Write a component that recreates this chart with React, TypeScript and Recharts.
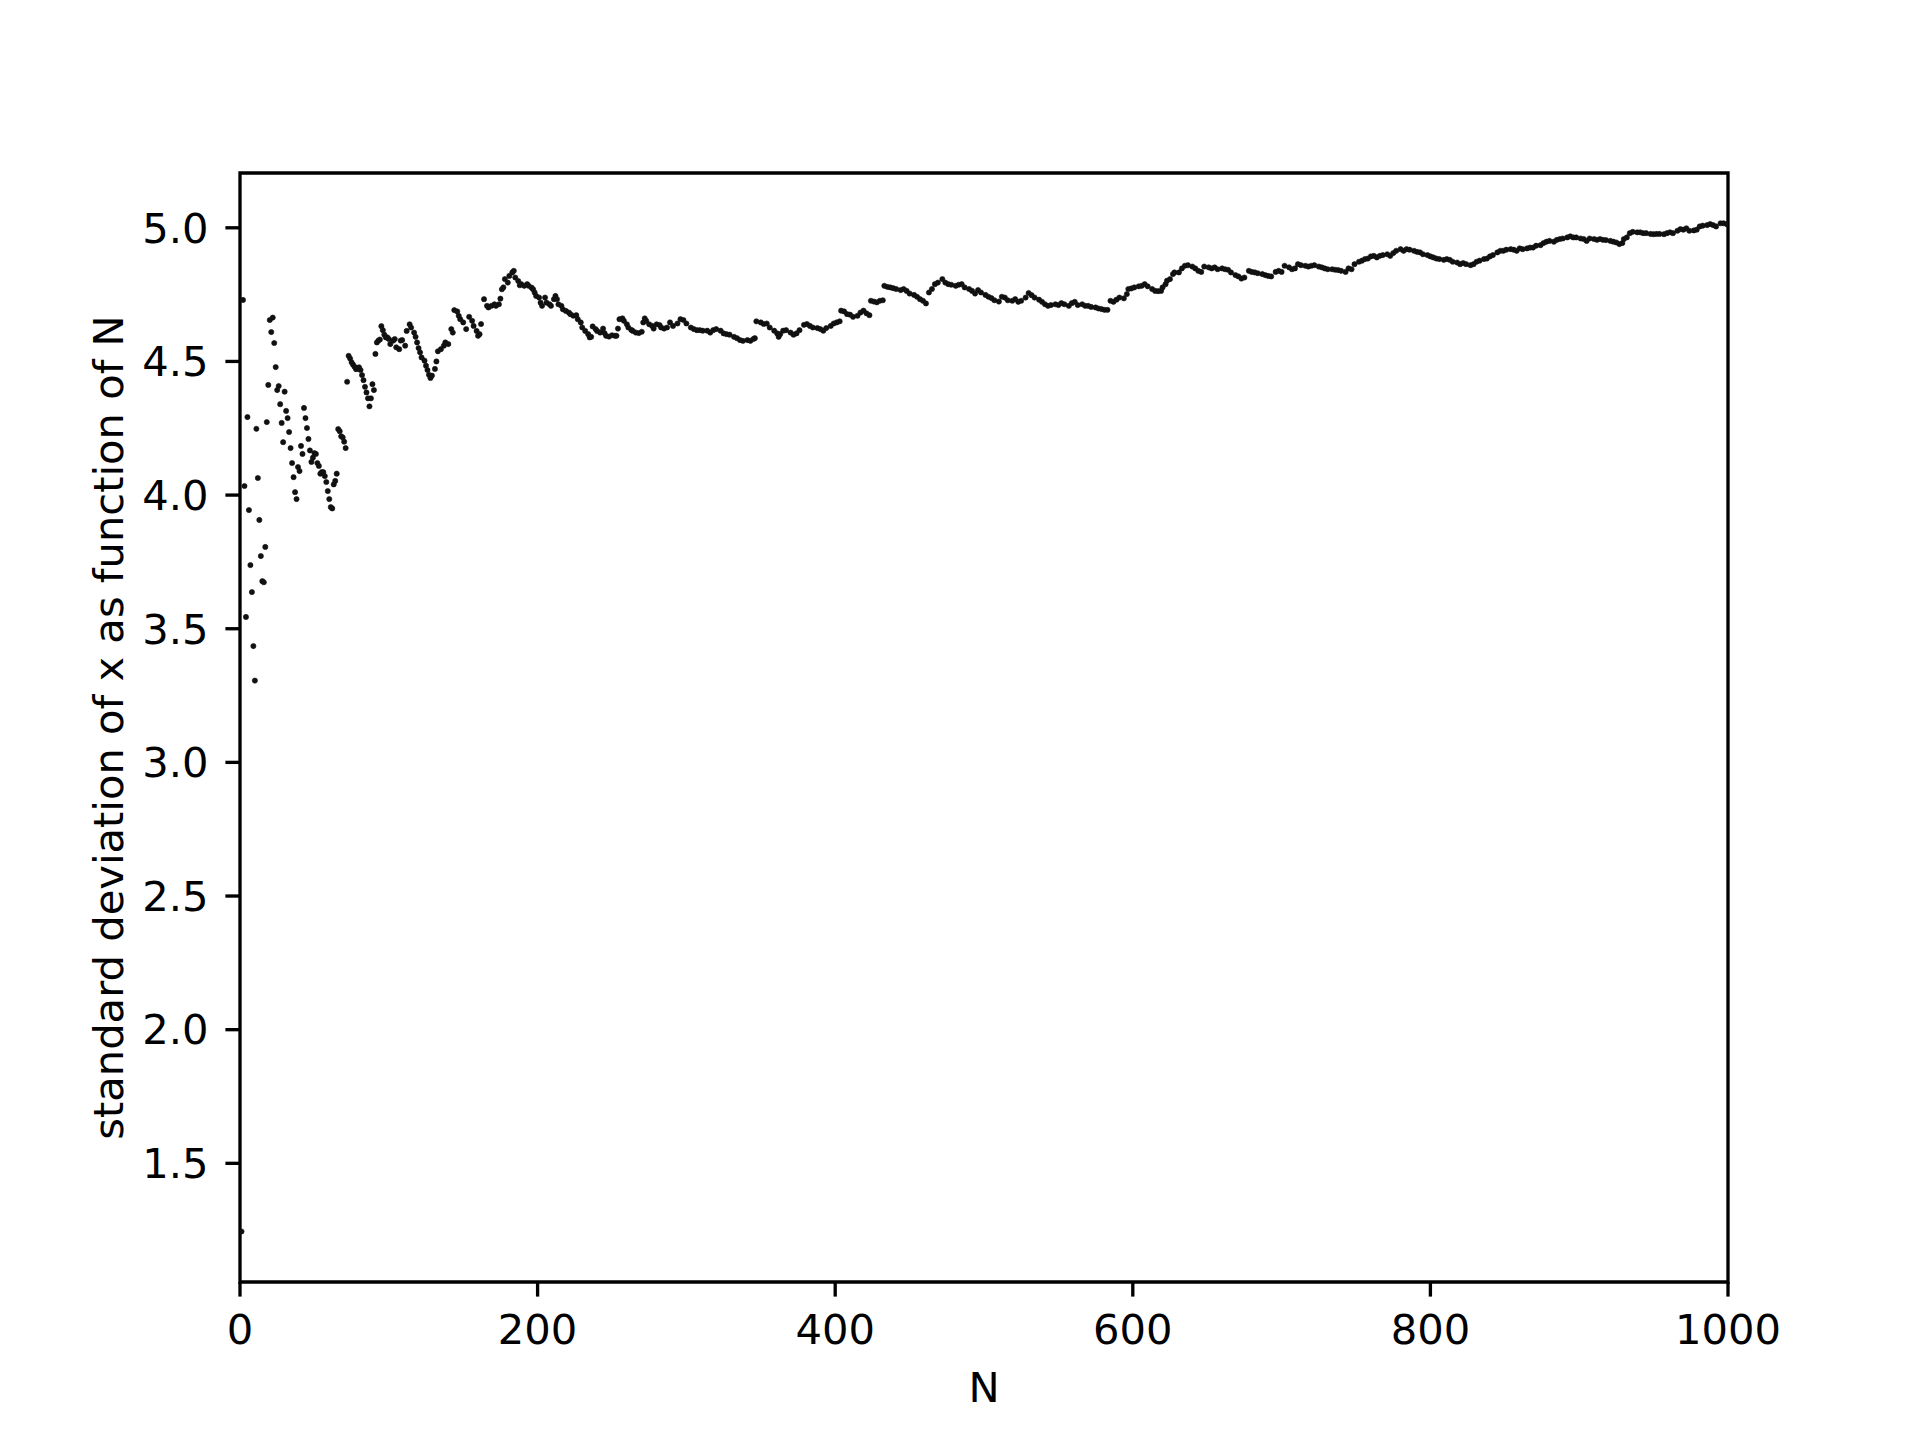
import React from "react";
import { ScatterChart, Scatter, XAxis, YAxis, ReferenceArea } from "recharts";

// running standard deviation of x as [N, value]
const firstSeventy: [number, number][] = [
  [1, 1.245], [2, 4.73], [3, 4.034], [4, 3.544], [5, 4.292], [6, 3.944], [7, 3.738], [8, 3.637],
  [9, 3.435], [10, 3.306], [11, 4.248], [12, 4.064], [13, 3.907], [14, 3.772], [15, 3.678],
  [16, 3.674], [17, 3.806], [18, 4.273], [19, 4.412], [20, 4.655], [21, 4.61], [22, 4.664],
  [23, 4.569], [24, 4.479], [25, 4.393], [26, 4.408], [27, 4.34], [28, 4.27], [29, 4.198],
  [30, 4.387], [31, 4.315], [32, 4.288], [33, 4.236], [34, 4.176], [35, 4.12], [36, 4.067],
  [37, 4.011], [38, 3.985], [39, 4.105], [40, 4.09], [41, 4.184], [42, 4.154], [43, 4.326],
  [44, 4.288], [45, 4.251], [46, 4.21], [47, 4.167], [48, 4.124], [49, 4.14], [50, 4.157],
  [51, 4.154], [52, 4.12], [53, 4.109], [54, 4.08], [55, 4.086], [56, 4.086], [57, 4.071],
  [58, 4.049], [59, 4.015], [60, 3.985], [61, 3.955], [62, 3.95], [63, 4.04], [64, 4.053],
  [65, 4.08], [66, 4.247], [67, 4.239], [68, 4.22], [69, 4.216], [70, 4.2], [71, 4.176],
];

const upToOneSixty: [number, number][] = [
  [72, 4.424], [73, 4.521], [74, 4.511], [75, 4.497], [76, 4.488], [77, 4.48], [78, 4.471],
  [79, 4.474], [80, 4.478], [81, 4.468], [82, 4.449], [83, 4.43], [84, 4.405], [85, 4.384],
  [86, 4.362], [87, 4.332], [88, 4.362], [89, 4.415], [90, 4.393], [91, 4.528], [92, 4.571],
  [93, 4.578], [94, 4.582], [95, 4.632], [96, 4.617], [97, 4.6], [98, 4.59], [99, 4.59],
  [100, 4.584], [101, 4.565], [103, 4.578], [104, 4.584], [105, 4.553], [107, 4.546],
  [108, 4.578], [109, 4.58], [111, 4.559], [112, 4.614], [114, 4.639], [115, 4.627],
  [117, 4.608], [118, 4.592], [119, 4.571], [120, 4.55], [121, 4.534], [122, 4.515],
  [124, 4.503], [125, 4.484], [126, 4.468], [127, 4.45], [128, 4.438], [129, 4.447],
  [131, 4.472], [132, 4.5], [133, 4.538], [135, 4.546], [137, 4.559], [138, 4.571],
  [140, 4.565], [142, 4.621], [143, 4.608], [144, 4.692], [146, 4.687], [147, 4.671],
  [148, 4.658], [150, 4.646], [152, 4.621], [154, 4.667], [156, 4.652], [157, 4.633],
  [159, 4.614], [160, 4.596],
];

const upToTwoEightyFive: [number, number][] = [
  [161, 4.602], [162, 4.64], [164, 4.733], [166, 4.708], [167, 4.702], [169, 4.708],
  [171, 4.714], [172, 4.708], [174, 4.714], [175, 4.735], [176, 4.77], [177, 4.777],
  [178, 4.808], [180, 4.795], [181, 4.82], [183, 4.833], [184, 4.839], [185, 4.814],
  [187, 4.801], [188, 4.785], [189, 4.789], [191, 4.783], [193, 4.789], [194, 4.783],
  [196, 4.776], [197, 4.77], [198, 4.758], [199, 4.745], [201, 4.739], [202, 4.72],
  [203, 4.708], [205, 4.739], [206, 4.72], [208, 4.714], [209, 4.708], [211, 4.733],
  [212, 4.745], [213, 4.733], [214, 4.714], [216, 4.708], [217, 4.695], [219, 4.689],
  [221, 4.683], [222, 4.677], [224, 4.671], [226, 4.673], [227, 4.658], [229, 4.646],
  [230, 4.627], [232, 4.614], [234, 4.602], [235, 4.59], [236, 4.592], [237, 4.631],
  [239, 4.621], [240, 4.614], [242, 4.608], [244, 4.623], [245, 4.606], [246, 4.596],
  [248, 4.593], [250, 4.598], [252, 4.596], [253, 4.596], [254, 4.623], [255, 4.658],
  [257, 4.661], [258, 4.652], [260, 4.639], [261, 4.627], [263, 4.618], [264, 4.614],
  [266, 4.608], [268, 4.606], [270, 4.611], [271, 4.646], [272, 4.661], [273, 4.652],
  [275, 4.639], [277, 4.633], [278, 4.623], [280, 4.639], [282, 4.636], [283, 4.627],
  [285, 4.623],
];

const upToFiveTwenty: [number, number][] = [
  [287, 4.627], [289, 4.646], [291, 4.633], [294, 4.642], [296, 4.658], [298, 4.655],
  [300, 4.642], [303, 4.627], [305, 4.621], [307, 4.617], [309, 4.617], [311, 4.615],
  [314, 4.615], [316, 4.608], [318, 4.617], [320, 4.621], [323, 4.615], [325, 4.605],
  [327, 4.602], [329, 4.6], [332, 4.592], [334, 4.587], [336, 4.58], [338, 4.577],
  [341, 4.58], [343, 4.577], [345, 4.584], [346, 4.587], [347, 4.65], [350, 4.646],
  [352, 4.64], [354, 4.642], [356, 4.627], [359, 4.615], [361, 4.605], [362, 4.592],
  [363, 4.602], [365, 4.615], [367, 4.617], [370, 4.608], [372, 4.6], [374, 4.605],
  [376, 4.617], [379, 4.637], [381, 4.64], [383, 4.633], [385, 4.627], [388, 4.625],
  [390, 4.621], [392, 4.615], [394, 4.625], [397, 4.633], [399, 4.642], [401, 4.646],
  [403, 4.65], [404, 4.69], [406, 4.687], [408, 4.677], [410, 4.675], [412, 4.667],
  [415, 4.671], [417, 4.683], [419, 4.69], [421, 4.68], [423, 4.673], [424, 4.727],
  [426, 4.724], [428, 4.721], [430, 4.727], [432, 4.729], [433, 4.783], [435, 4.779],
  [437, 4.777], [439, 4.774], [441, 4.771], [444, 4.767], [446, 4.771], [448, 4.764],
  [450, 4.754], [453, 4.749], [455, 4.742], [457, 4.733], [459, 4.727], [461, 4.717],
  [463, 4.758], [465, 4.771], [467, 4.789], [469, 4.795], [472, 4.808], [474, 4.795],
  [476, 4.789], [478, 4.787], [481, 4.783], [483, 4.787], [485, 4.789], [487, 4.777],
  [490, 4.771], [492, 4.764], [494, 4.754], [496, 4.767], [498, 4.758], [501, 4.749],
  [503, 4.742], [505, 4.737], [507, 4.729], [510, 4.724], [512, 4.742], [514, 4.739],
  [516, 4.729], [519, 4.727], [521, 4.733],
];

const upToSevenFifty: [number, number][] = [
  [523, 4.723], [525, 4.727], [528, 4.739], [530, 4.756], [532, 4.748], [534, 4.739],
  [537, 4.731], [539, 4.723], [541, 4.714], [543, 4.708], [545, 4.711], [548, 4.714],
  [550, 4.711], [552, 4.718], [554, 4.714], [557, 4.708], [559, 4.718], [561, 4.723],
  [563, 4.711], [566, 4.714], [568, 4.708], [570, 4.708], [572, 4.704], [575, 4.702],
  [577, 4.698], [579, 4.696], [581, 4.693], [583, 4.693], [585, 4.727], [587, 4.723],
  [589, 4.731], [591, 4.739], [594, 4.736], [596, 4.752], [597, 4.771], [599, 4.773],
  [601, 4.777], [604, 4.781], [606, 4.783], [608, 4.789], [610, 4.781], [613, 4.771],
  [615, 4.764], [617, 4.763], [619, 4.764], [620, 4.777], [622, 4.789], [623, 4.802],
  [625, 4.808], [627, 4.827], [628, 4.833], [631, 4.833], [633, 4.848], [635, 4.858],
  [637, 4.86], [640, 4.855], [642, 4.848], [644, 4.839], [646, 4.835], [648, 4.855],
  [651, 4.852], [653, 4.848], [655, 4.852], [657, 4.845], [660, 4.848], [662, 4.845],
  [664, 4.843], [666, 4.833], [669, 4.823], [671, 4.818], [673, 4.81], [675, 4.814],
  [678, 4.839], [680, 4.835], [682, 4.833], [684, 4.83], [687, 4.827], [689, 4.823],
  [691, 4.82], [693, 4.818], [696, 4.835], [698, 4.839], [700, 4.835], [702, 4.858],
  [705, 4.852], [707, 4.845], [709, 4.848], [711, 4.864], [713, 4.86], [716, 4.858],
  [718, 4.855], [720, 4.858], [722, 4.86], [725, 4.855], [727, 4.852], [729, 4.848],
  [731, 4.845], [734, 4.845], [736, 4.843], [738, 4.842], [740, 4.839], [743, 4.835],
  [745, 4.848], [747, 4.845], [749, 4.864], [752, 4.873], [754, 4.877], [756, 4.883],
  [758, 4.885],
];

const upToThousand: [number, number][] = [
  [760, 4.893], [762, 4.895], [764, 4.889], [766, 4.895], [768, 4.898], [771, 4.901],
  [773, 4.895], [775, 4.905], [777, 4.914], [780, 4.92], [782, 4.914], [784, 4.92],
  [786, 4.918], [789, 4.914], [791, 4.91], [793, 4.908], [795, 4.901], [798, 4.898],
  [800, 4.893], [802, 4.889], [804, 4.885], [806, 4.883], [809, 4.88], [811, 4.883],
  [813, 4.88], [815, 4.873], [818, 4.87], [820, 4.864], [822, 4.868], [824, 4.864],
  [827, 4.86], [829, 4.864], [831, 4.873], [833, 4.877], [836, 4.883], [838, 4.885],
  [840, 4.893], [842, 4.898], [845, 4.908], [847, 4.914], [849, 4.914], [851, 4.918],
  [854, 4.92], [856, 4.918], [858, 4.914], [860, 4.923], [862, 4.92], [865, 4.923],
  [867, 4.926], [869, 4.926], [871, 4.933], [874, 4.935], [876, 4.943], [878, 4.948],
  [880, 4.951], [883, 4.948], [885, 4.955], [887, 4.958], [889, 4.96], [892, 4.964],
  [894, 4.968], [896, 4.964], [898, 4.964], [901, 4.96], [903, 4.958], [905, 4.951],
  [907, 4.96], [910, 4.958], [912, 4.955], [914, 4.958], [916, 4.955], [918, 4.954],
  [921, 4.951], [923, 4.948], [925, 4.945], [927, 4.939], [929, 4.943], [930, 4.958],
  [932, 4.964], [934, 4.98], [936, 4.985], [939, 4.983], [941, 4.983], [943, 4.98],
  [945, 4.98], [948, 4.977], [950, 4.976], [952, 4.977], [954, 4.977], [957, 4.976],
  [959, 4.98], [961, 4.983], [963, 4.98], [966, 4.989], [968, 4.995], [970, 4.993],
  [972, 4.998], [974, 4.989], [977, 4.99], [979, 4.993], [981, 5.005], [983, 5.008],
  [986, 5.01], [988, 5.014], [990, 5.01], [992, 5.005], [995, 5.017], [997, 5.017],
  [999, 5.014], [1000, 5.013],
];

const xTicks = [0, 200, 400, 600, 800, 1000];
const yTicks = [1.5, 2.0, 2.5, 3.0, 3.5, 4.0, 4.5, 5.0];

const data = [
  ...firstSeventy,
  ...upToOneSixty,
  ...upToTwoEightyFive,
  ...upToFiveTwenty,
  ...upToSevenFifty,
  ...upToThousand,
].map(([n, sd]) => ({ n, sd }));

const FONT = "DejaVu Sans";
const FS = 41.67;
const LW = 3.33;

const Dot = (props: any) => (
  <circle cx={props.cx} cy={props.cy} r={2.6} fill="#111" stroke="#111" strokeWidth={0.6} />
);

export default function App() {
  return (
    <div style={{ position: "absolute", left: 0, top: 0, background: "#fff" }}>
      <ScatterChart
        width={1920}
        height={1440}
        margin={{ top: 173, right: 192, bottom: 38, left: 0 }}
      >
        <XAxis
          type="number"
          dataKey="n"
          domain={[0, 1000]}
          ticks={xTicks}
          allowDataOverflow
          height={120}
          axisLine={false}
          tickSize={14.6}
          tickMargin={18}
          tickLine={{ stroke: "#000", strokeWidth: LW }}
          tick={{ fill: "#000", fontSize: FS, fontFamily: FONT }}
          label={{ value: "N", position: "insideBottom", offset: 0, fill: "#000", fontSize: FS, fontFamily: FONT }}
        />
        <YAxis
          type="number"
          dataKey="sd"
          domain={[1.056, 5.205]}
          ticks={yTicks}
          allowDataOverflow
          width={240}
          axisLine={false}
          tickSize={14.6}
          tickMargin={17}
          tickFormatter={(v: number) => v.toFixed(1)}
          tickLine={{ stroke: "#000", strokeWidth: LW }}
          tick={{ fill: "#000", fontSize: FS, fontFamily: FONT }}
          label={{
            value: "standard deviation of x as function of N",
            angle: -90,
            position: "insideLeft",
            offset: 108,
            fill: "#000",
            fontSize: FS,
            fontFamily: FONT,
            style: { textAnchor: "middle" },
          }}
        />
        <Scatter data={data} shape={Dot} isAnimationActive={false} />
        <ReferenceArea
          x1={0}
          x2={1000}
          y1={1.056}
          y2={5.205}
          fill="none"
          fillOpacity={0}
          stroke="#000"
          strokeWidth={LW}
          strokeOpacity={1}
        />
      </ScatterChart>
    </div>
  );
}
